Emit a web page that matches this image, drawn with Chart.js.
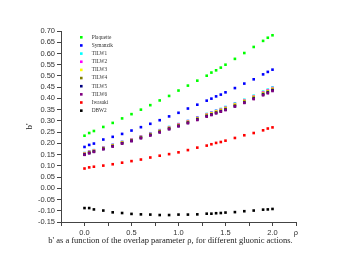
<!DOCTYPE html>
<html>
<head>
<meta charset="utf-8">
<script src="https://cdn.jsdelivr.net/npm/chart.js@4/dist/chart.umd.min.js"></script>
<style>
html,body{margin:0;padding:0;background:#fff;}
#wrap{width:344px;height:266px;}
</style>
</head>
<body>
<div id="wrap"><canvas id="c" width="344" height="266"></canvas></div>
<script>
const rho = [0,0.05,0.1,0.2,0.3,0.4,0.5,0.6,0.7,0.8,0.9,1.0,1.1,1.2,1.3,1.35,1.4,1.45,1.5,1.6,1.7,1.8,1.9,1.95,2.0];

const plaquette = [0.234,0.246,0.255,0.273,0.291,0.311,0.330,0.350,0.370,0.391,0.411,0.435,0.457,0.479,0.501,0.515,0.525,0.537,0.550,0.576,0.602,0.629,0.656,0.670,0.681];
const symanzik  = [0.184,0.193,0.199,0.217,0.229,0.242,0.257,0.272,0.287,0.303,0.320,0.336,0.355,0.372,0.390,0.399,0.409,0.417,0.427,0.446,0.466,0.485,0.507,0.518,0.528];
const tilw1 = [0.157,0.164,0.170,0.182,0.194,0.207,0.218,0.231,0.245,0.259,0.273,0.286,0.300,0.316,0.331,0.338,0.346,0.353,0.362,0.378,0.394,0.412,0.430,0.439,0.449];
const tilw2 = [0.156,0.163,0.169,0.181,0.193,0.206,0.217,0.230,0.243,0.257,0.271,0.285,0.299,0.314,0.329,0.336,0.344,0.351,0.359,0.375,0.391,0.409,0.427,0.436,0.446];
const tilw3 = [0.154,0.161,0.167,0.179,0.191,0.204,0.215,0.228,0.241,0.255,0.269,0.282,0.296,0.311,0.327,0.334,0.342,0.349,0.357,0.373,0.389,0.407,0.424,0.433,0.443];
const tilw4 = [0.152,0.159,0.165,0.177,0.189,0.202,0.213,0.226,0.239,0.253,0.267,0.280,0.294,0.309,0.323,0.330,0.338,0.345,0.353,0.369,0.385,0.403,0.420,0.429,0.439];
const tilw5 = [0.150,0.157,0.163,0.175,0.187,0.200,0.211,0.224,0.237,0.250,0.264,0.277,0.291,0.306,0.321,0.328,0.335,0.342,0.350,0.365,0.381,0.399,0.417,0.426,0.436];
const tilw6 = [0.149,0.156,0.162,0.174,0.186,0.199,0.210,0.223,0.235,0.249,0.263,0.276,0.290,0.304,0.319,0.326,0.334,0.341,0.348,0.364,0.380,0.397,0.414,0.423,0.433];
const iwasaki = [0.088,0.093,0.096,0.101,0.107,0.114,0.121,0.128,0.137,0.145,0.152,0.160,0.170,0.181,0.190,0.196,0.202,0.206,0.212,0.224,0.236,0.246,0.258,0.266,0.271];
const dbw2 = [-0.088,-0.088,-0.094,-0.099,-0.107,-0.110,-0.114,-0.116,-0.117,-0.119,-0.119,-0.117,-0.117,-0.116,-0.113,-0.113,-0.111,-0.110,-0.108,-0.106,-0.102,-0.099,-0.095,-0.094,-0.092];

const seriesNames = ["Plaquette","Symanzik","TILW1","TILW2","TILW3","TILW4","TILW5","TILW6","Iwasaki","DBW2"];
const seriesValues = [plaquette,symanzik,tilw1,tilw2,tilw3,tilw4,tilw5,tilw6,iwasaki,dbw2];
const seriesColors = ["#00ff00","#0000ff","#00ffff","#ff00ff","#ffff00","#808000","#000080","#800080","#ff0000","#000000"];

const yTicksMin = -0.15, yTicksMax = 0.70, yStep = 0.05;
const xMin = -0.25, xMax = 2.25, xStep = 0.25;
const xAxisEndLabel = "ρ";
const yTitle = "b'";
const xTitle = "b' as a function of the overlap parameter ρ, for different gluonic actions.";

const datasets = seriesNames.map((name, i) => ({
  label: name,
  data: rho.map((r, j) => ({x: r, y: seriesValues[i][j]})),
  backgroundColor: seriesColors[i],
  borderColor: seriesColors[i],
  borderWidth: 0,
  pointStyle: 'rect',
  pointRadius: 1.85,
  pointHoverRadius: 1.85,
  showLine: false,
  order: seriesNames.length - i
}));

const legendPlugin = {
  id: 'customLegend',
  afterDraw(chart) {
    const ctx = chart.ctx;
    ctx.save();
    ctx.font = '5.3px "Liberation Serif"';
    ctx.textBaseline = 'middle';
    ctx.textAlign = 'left';
    chart.data.datasets.forEach((ds, i) => {
      const y = 37.3 + i * 8.15;
      ctx.fillStyle = ds.backgroundColor;
      ctx.fillRect(80, y - 1.3, 2.6, 2.6);
      ctx.fillStyle = '#333';
      ctx.fillText(ds.label, 91.7, y);
    });
    ctx.font = '8.5px "Liberation Serif"';
    ctx.textAlign = 'center';
    ctx.fillStyle = '#222';
    ctx.fillText(xTitle, 170.5, 241);
    ctx.restore();
  }
};

new Chart(document.getElementById('c'), {
  type: 'scatter',
  data: {datasets},
  options: {
    responsive: false,
    animation: false,
    devicePixelRatio: 1,
    layout: {padding: {left: 0, right: 48, top: 31, bottom: 0}},
    plugins: {legend: {display: false}, tooltip: {enabled: false}},
    scales: {
      x: {
        type: 'linear',
        min: xMin, max: xMax,
        afterFit(scale) { scale.height = 44; },
        border: {display: true, color: '#444', width: 1},
        grid: {drawOnChartArea: false, drawTicks: true, tickLength: 4, color: '#444'},
        ticks: {
          stepSize: xStep,
          autoSkip: false,
          maxRotation: 0,
          padding: 2,
          color: '#333',
          font: {family: '"Liberation Sans"', size: 7.5},
          callback(v) {
            if (Math.abs(v - xMax) < 1e-6) return xAxisEndLabel;
            if (v < -1e-6) return '';
            const m = Math.round(v / 0.5);
            if (Math.abs(v - m * 0.5) < 1e-6) return v.toFixed(1);
            return '';
          }
        }
      },
      y: {
        type: 'linear',
        min: yTicksMin, max: yTicksMax,
        afterFit(scale) { scale.width = 61; },
        border: {display: true, color: '#444', width: 1},
        grid: {drawOnChartArea: false, drawTicks: true, tickLength: 4, color: '#444'},
        title: {display: true, text: yTitle, color: '#222', font: {family: '"Liberation Serif"', size: 9}, padding: {top: 24.6, bottom: 0}},
        ticks: {
          stepSize: yStep,
          autoSkip: false,
          padding: 2,
          color: '#333',
          font: {family: '"Liberation Sans"', size: 7.5},
          callback(v) { return v.toFixed(2); }
        }
      }
    }
  },
  plugins: [legendPlugin]
});
</script>
</body>
</html>
